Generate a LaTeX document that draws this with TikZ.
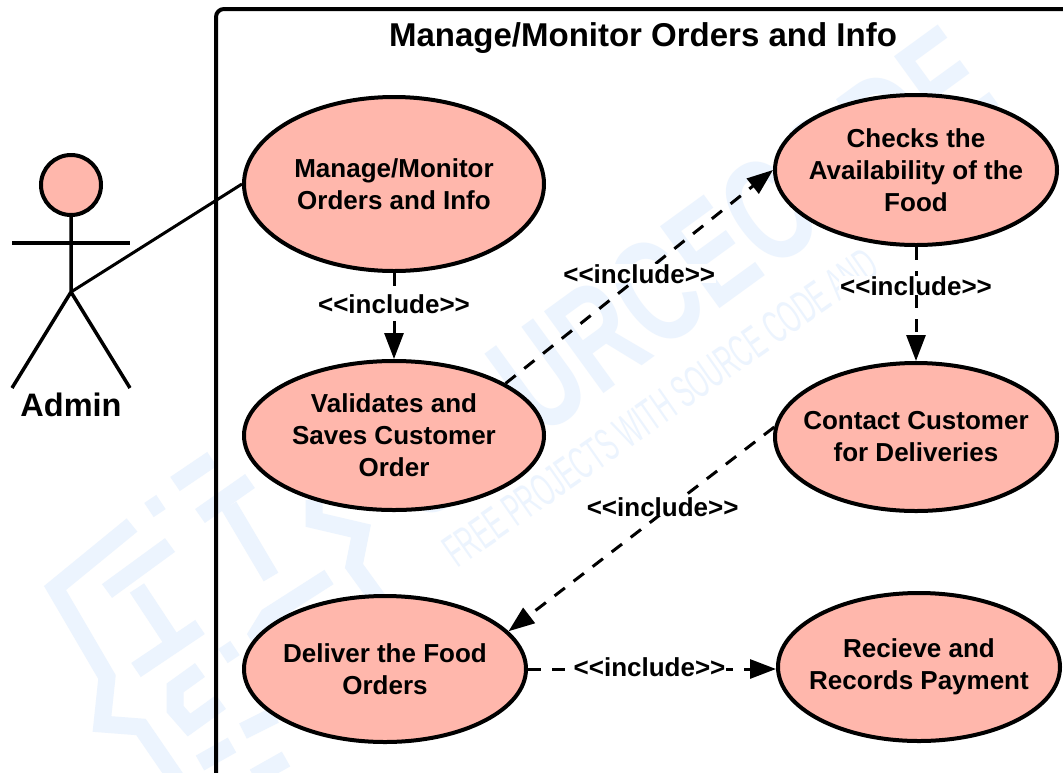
\documentclass[tikz,border=0pt]{standalone}
\usepackage{fontspec}
\setmainfont{Liberation Sans}
\usetikzlibrary{shapes.geometric,arrows.meta}
\definecolor{usecasefill}{RGB}{255,183,172}
\definecolor{wmarkblue}{RGB}{236,244,254}
\tikzset{
  usecase/.style={draw, ellipse, line width=4pt, fill=usecasefill, inner sep=-30pt, align=center,
    font=\fontsize{26}{32}\selectfont\bfseries},
  incl/.style={font=\fontsize{26}{32}\selectfont\bfseries, fill=white, inner xsep=1pt, inner ysep=0pt},
  dep/.style={draw, dash pattern=on 13pt off 11pt, line width=3pt, -{Triangle[length=26pt,width=19pt]}},
  wmark/.style={draw=wmarkblue, line width=17pt}
}
\begin{document}
\begin{tikzpicture}[x=1pt, y=-1pt]
  \useasboundingbox (0,0) rectangle (1063,772);
  \clip (0,0) rectangle (1063,772);
  \fill[white] (0,0) rectangle (1063,772);
  % watermark
  \node[text=wmarkblue, font=\fontsize{147}{147}\selectfont\bfseries, transform shape, rotate=36, xscale=.68] (wmarkmain) at (683,273) {SOURCECODE};
  \node[text=wmarkblue, font=\fontsize{46}{46}\selectfont, transform shape, rotate=35, xscale=.53, anchor=west] (wmarksub) at (447,557) {FREE PROJECTS WITH SOURCE CODE AND};
  \draw[wmark] (132,525) -- (55,588) -- (107,677) -- (102,724) -- (141,727) -- (189,797);
  \draw[wmark] (175,484) -- (212,459);
  \draw[wmark] (314,500) -- (314,520) -- (361,531) -- (354,566) -- (396,624);
  \draw[wmark] (107,591) -- (170,545);
  \draw[wmark] (137,588) -- (170,638);
  \draw[wmark] (136,670) -- (200,627);
  \draw[wmark] (149,510) -- (161,502);
  \draw[wmark] (200,516) -- (250,481);
  \draw[wmark] (229,506) -- (271,577);
  \draw[wmark] (329,577) -- (268,616) -- (257,634) -- (270,655);
  \draw[wmark] (200,670) -- (175,688) -- (175,709) -- (189,725) -- (221,702);
  \draw[wmark] (223,656) -- (235,648);
  \draw[wmark] (200,763) -- (232,745);
  \draw[wmark] (254,777) -- (286,759);
  \draw[wmark] (243,731) -- (275,715);
  % system boundary
  \draw[line width=4pt, rounded corners=8pt] (216,790) -- (216,9) -- (1090,9) -- (1090,790);
  \node[font=\fontsize{33}{36}\selectfont\bfseries] (title) at (643,38) {Manage/Monitor Orders and Info};
  % actor
  \node[draw, circle, line width=4pt, fill=usecasefill, minimum size=60pt, inner sep=0pt] (head) at (71,185) {};
  \coordinate (hip) at (71,292);
  \coordinate (armL) at (12,243);
  \coordinate (armR) at (130,243);
  \coordinate (footL) at (12,388);
  \coordinate (footR) at (130,388);
  \draw[line width=3.5pt] (head) -- (hip) -- (footL);
  \draw[line width=3.5pt] (hip) -- (footR);
  \draw[line width=3.5pt] (armL) -- (armR);
  \node[font=\fontsize{32.5}{36}\selectfont\bfseries] (admin) at (71,405) {Admin};
  % use cases
  \node[usecase, minimum width=300pt, minimum height=174pt] (manage) at (394,184) {Manage/Monitor\\Orders and Info};
  \node[usecase, minimum width=300pt, minimum height=149pt] (validate) at (394,435.5) {Validates and\\Saves Customer\\Order};
  \node[usecase, minimum width=282pt, minimum height=150pt] (checks) at (916,170) {Checks the\\Availability of the\\Food};
  \node[usecase, minimum width=282pt, minimum height=148pt] (contact) at (916,437) {Contact Customer\\for Deliveries};
  \node[usecase, minimum width=282pt, minimum height=146pt] (deliver) at (385,669) {Deliver the Food\\Orders};
  \node[usecase, minimum width=282pt, minimum height=148pt] (receive) at (919,667) {Recieve and\\Records Payment};
  % connectors
  \draw[line width=3pt] (hip) -- (manage.west);
  \draw[dep] (manage) -- node[incl, pos=.36] {<{}<include>{}>} (validate);
  \draw[dep] (validate.25) -- node[incl, pos=.5, yshift=3pt] {<{}<include>{}>} (checks.west);
  \draw[dep] (checks) -- node[incl, pos=.34] {<{}<include>{}>} (contact);
  \draw[dep] (contact.176) -- node[incl, pos=.42, yshift=6pt] {<{}<include>{}>} (deliver.17);
  \draw[dep] (deliver.east) -- node[incl, pos=.49, yshift=2pt] {<{}<include>{}>} (receive.west |- deliver.east);
\end{tikzpicture}
\end{document}
